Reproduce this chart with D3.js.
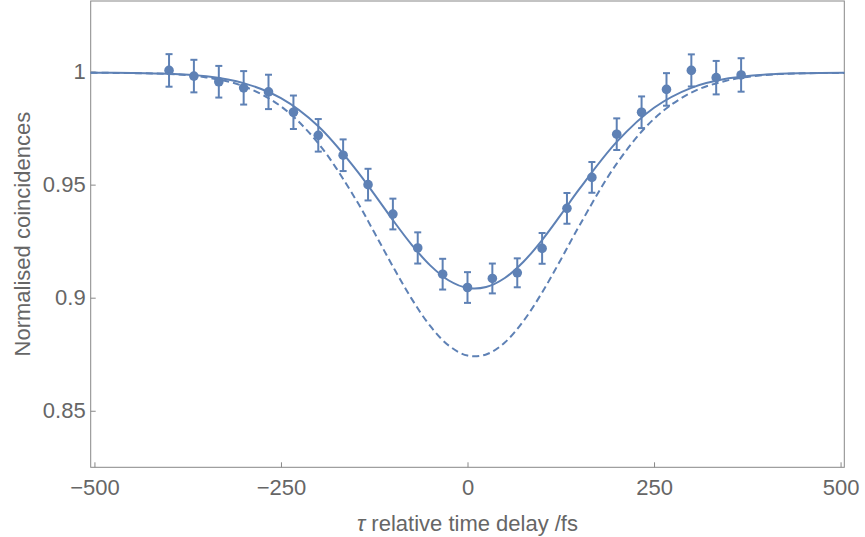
<!DOCTYPE html>
<html>
<head>
<meta charset="utf-8">
<script src="https://cdn.jsdelivr.net/npm/d3@7"></script>
<style>
  body { margin: 0; background: #fff; }
  text { font-family: 'Liberation Sans', Arial, sans-serif; fill: #666; }
</style>
</head>
<body>
<script>
// measured points
const delays = [-400, -366.7, -333.3, -300, -266.7, -233.3, -200, -166.7, -133.3, -100, -66.7, -33.3,
                0, 33.3, 66.7, 100, 133.3, 166.7, 200, 233.3, 266.7, 300, 333.3, 366.7];
const coincidences = [1.0005, 0.998, 0.9955, 0.9928, 0.991, 0.982, 0.9718, 0.963, 0.950, 0.937, 0.922, 0.9104,
                      0.9045, 0.9085, 0.911, 0.9218, 0.9395, 0.9532, 0.9723, 0.982, 0.9921, 1.0005, 0.9973, 0.9985];
const errors = [0.0072, 0.0072, 0.007, 0.0074, 0.0076, 0.0074, 0.0072, 0.007, 0.007, 0.0068, 0.0069, 0.0068,
                0.0068, 0.0066, 0.0064, 0.0068, 0.0068, 0.0068, 0.007, 0.007, 0.0072, 0.0071, 0.0074, 0.0074];

// fitted curve (solid) and theory curve (dashed)
const curveDelays = [-505, -450, -400, -350, -300, -250, -200, -150, -125, -100, -75, -50, -25, 0,
                     25, 50, 75, 100, 125, 150, 200, 250, 300, 350, 400, 450, 505];
const fitValues = [0.9995, 0.9994, 0.9990, 0.9979, 0.9949, 0.9882, 0.9758, 0.9569, 0.9458, 0.9343, 0.9235, 0.9143, 0.9076, 0.9043,
                   0.9047, 0.9087, 0.9159, 0.9255, 0.9366, 0.9481, 0.9689, 0.9840, 0.9928, 0.9970, 0.9987, 0.9993, 0.9995];
const theoryValues = [0.9995, 0.9993, 0.9989, 0.9974, 0.9935, 0.9846, 0.9683, 0.9436, 0.9289, 0.9138, 0.8996, 0.8875, 0.8788, 0.8744,
                      0.8749, 0.8802, 0.8897, 0.9023, 0.9168, 0.9319, 0.9593, 0.9791, 0.9907, 0.9962, 0.9985, 0.9992, 0.9994];

const xTicks = [-500, -250, 0, 250, 500];
const yTicks = [0.85, 0.9, 0.95, 1];

let width = 865;
let height = 537;
let frame = { left: 90.7, right: 844.3, top: 1, bottom: 467.3 };
let blue = '#5e81b5';

let svg = d3.select('body')
    .append('svg')
    .attr('width', width)
    .attr('height', height);

let x = d3.scaleLinear().domain([-505, 505]).range([frame.left, frame.right]);
let y = d3.scaleLinear().domain([0.825, 1.0312]).range([frame.bottom, frame.top]);

let fmt = (d) => String(d).replace('-', '\u2212');

// axes with inward ticks
let xAxis = svg.append('g')
    .attr('transform', `translate(0, ${frame.bottom})`)
    .call(d3.axisBottom(x).tickValues(xTicks).tickSize(-5).tickPadding(12).tickFormat(fmt));
let yAxis = svg.append('g')
    .attr('transform', `translate(${frame.left}, 0)`)
    .call(d3.axisLeft(y).tickValues(yTicks).tickSize(-5).tickPadding(5).tickFormat(fmt));

[xAxis, yAxis].forEach((a) => {
    a.select('.domain').remove();
    a.selectAll('line').attr('stroke', '#888');
    a.selectAll('text').attr('font-size', 22).attr('fill', '#666');
});

// frame
svg.append('rect')
    .attr('x', frame.left)
    .attr('y', frame.top)
    .attr('width', frame.right - frame.left)
    .attr('height', frame.bottom - frame.top)
    .attr('fill', 'none')
    .attr('stroke', '#888')
    .attr('stroke-width', 1);

let plot = svg.append('g');

let line = d3.line()
    .x((d) => x(d[0]))
    .y((d) => y(d[1]))
    .curve(d3.curveCatmullRom.alpha(0.5));

plot.append('path')
    .datum(curveDelays.map((t, i) => [t, theoryValues[i]]))
    .attr('d', line)
    .attr('fill', 'none')
    .attr('stroke', blue)
    .attr('stroke-width', 2)
    .attr('stroke-dasharray', '7,4');

plot.append('path')
    .datum(curveDelays.map((t, i) => [t, fitValues[i]]))
    .attr('d', line)
    .attr('fill', 'none')
    .attr('stroke', blue)
    .attr('stroke-width', 2);

// error bars
let bars = plot.selectAll('g.bar')
    .data(delays.map((t, i) => ({ t: t, v: coincidences[i], e: errors[i] })))
    .enter()
    .append('g')
    .attr('class', 'bar');

bars.append('line')
    .attr('x1', (d) => x(d.t))
    .attr('x2', (d) => x(d.t))
    .attr('y1', (d) => y(d.v - d.e))
    .attr('y2', (d) => y(d.v + d.e))
    .attr('stroke', blue)
    .attr('stroke-width', 2);

[-1, 1].forEach((s) => {
    bars.append('line')
        .attr('x1', (d) => x(d.t) - 3.5)
        .attr('x2', (d) => x(d.t) + 3.5)
        .attr('y1', (d) => y(d.v + s * d.e))
        .attr('y2', (d) => y(d.v + s * d.e))
        .attr('stroke', blue)
        .attr('stroke-width', 2);
});

bars.append('circle')
    .attr('cx', (d) => x(d.t))
    .attr('cy', (d) => y(d.v))
    .attr('r', 4.8)
    .attr('fill', blue);

// axis titles
svg.append('text')
    .attr('x', (frame.left + frame.right) / 2)
    .attr('y', 531)
    .attr('text-anchor', 'middle')
    .attr('font-size', 22)
    .html('<tspan font-style="italic">\u03c4</tspan> relative time delay /fs');

svg.append('text')
    .attr('transform', `translate(30, ${(frame.top + frame.bottom) / 2}) rotate(-90)`)
    .attr('text-anchor', 'middle')
    .attr('font-size', 22)
    .text('Normalised coincidences');
</script>
</body>
</html>
